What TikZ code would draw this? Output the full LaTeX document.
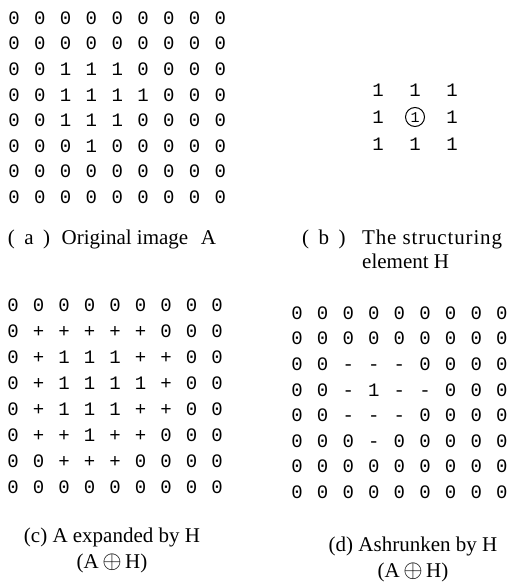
\documentclass[tikz,border=0pt]{standalone}
\usepackage{amsmath}
\usepackage{fontspec}
\setmainfont{Liberation Serif}
\setmonofont{Liberation Mono}
\usepackage{tikz}
\usetikzlibrary{positioning}
\newcommand{\bigOplus}{\scalebox{1.2}{$\oplus$}}
\newcommand{\capTag}[1]{(\hspace{0.45em}#1\hspace{0.45em})}

\begin{document}
\begin{tikzpicture}[x=1pt, y=-1pt,
    bit/.style={font=\ttfamily\fontsize{19}{19}\selectfont, inner sep=0pt,
      text height=12.5pt, text depth=0pt},
    capText/.style={font=\fontsize{21}{25}\selectfont, inner sep=0pt,
      text height=15pt, text depth=5pt}
  ]
  \useasboundingbox (0,0) rectangle (511,583);

  % (a) original image A
  \foreach \line [count=\r from 0] in {
      {0,0,0,0,0,0,0,0,0},{0,0,0,0,0,0,0,0,0},{0,0,1,1,1,0,0,0,0},
      {0,0,1,1,1,1,0,0,0},{0,0,1,1,1,0,0,0,0},{0,0,0,1,0,0,0,0,0},
      {0,0,0,0,0,0,0,0,0},{0,0,0,0,0,0,0,0,0}}
    \foreach \v [count=\c from 0] in \line
      \node[bit] (a-\r-\c) at ({14+25.8*\c},{18+25.6*\r}) {\v};
  \node[capText] (capA) at (112,239)
    {\capTag{a}\hspace{0.55em}Original image\hspace{0.6em}A};

  % (b) structuring element H
  \foreach \r/\c in {0/0,0/1,0/2,1/0,1/2,2/0,2/1,2/2}
    \node[bit] (h-\r-\c) at ({378+37*\c},{90+27*\r}) {1};
  \node[bit, draw, circle, line width=1pt, text height=10pt, minimum size=19pt,
    font=\ttfamily\fontsize{15}{15}\selectfont] (h-1-1) at (415,117) {1};
  \node[capText, anchor=west] (capB) at (302,239) {\capTag{b}};
  \node[capText, anchor=west] (capB1) at (362,239)
    {\addfontfeature{LetterSpace=4}The structuring};
  \node[capText, below=4pt of capB1.south west, anchor=north west] (capB2)
    {element H};

  % (c) A expanded by H
  \foreach \line [count=\r from 0] in {
      {0,0,0,0,0,0,0,0,0},{0,+,+,+,+,+,0,0,0},{0,+,1,1,1,+,+,0,0},
      {0,+,1,1,1,1,+,0,0},{0,+,1,1,1,+,+,0,0},{0,+,+,1,+,+,0,0,0},
      {0,0,+,+,+,0,0,0,0},{0,0,0,0,0,0,0,0,0}}
    \foreach \v [count=\c from 0] in \line
      \node[bit] (c-\r-\c) at ({13+25.5*\c},{305+26*\r}) {\v};
  \node[capText] (capC) at (112,537) {(c) A expanded by H};
  \node[capText, below=6pt of capC] (capC2) {(A\,\bigOplus\,H)};

  % (d) A shrunken by H
  \foreach \line [count=\r from 0] in {
      {0,0,0,0,0,0,0,0,0},{0,0,0,0,0,0,0,0,0},{0,0,-,-,-,0,0,0,0},
      {0,0,-,1,-,-,0,0,0},{0,0,-,-,-,0,0,0,0},{0,0,0,-,0,0,0,0,0},
      {0,0,0,0,0,0,0,0,0},{0,0,0,0,0,0,0,0,0}}
    \foreach \v [count=\c from 0] in \line
      \node[bit] (d-\r-\c) at ({297+25.6*\c},{313+25.6*\r}) {\v};
  \node[capText] (capD) at (413,546) {(d) Ashrunken by H};
  \node[capText, below=6pt of capD] (capD2) {(A\,\bigOplus\,H)};
\end{tikzpicture}
\end{document}
